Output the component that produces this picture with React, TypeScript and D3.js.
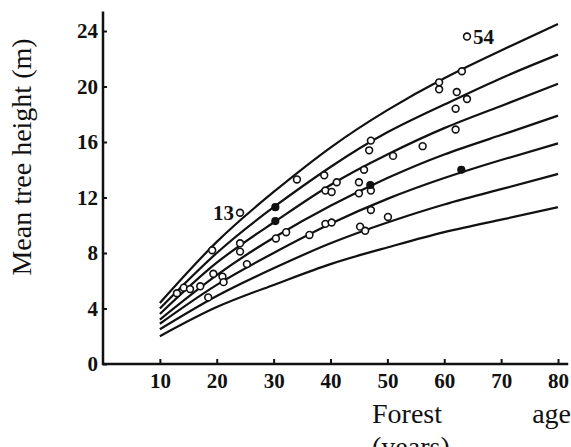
import React, { useEffect, useRef } from 'react';
import * as d3 from 'd3';

// Ages at which the fitted curves are read
const ages = [10, 20, 30, 40, 50, 60, 70, 80];

// Seven fitted height curves (m), top to bottom
const curve1 = [4.4, 8.8, 12.4, 15.6, 18.3, 20.6, 22.6, 24.5];
const curve2 = [4.0, 8.0, 11.3, 14.2, 16.7, 18.7, 20.6, 22.3];
const curve3 = [3.6, 7.3, 10.2, 12.9, 15.1, 17.0, 18.6, 20.2];
const curve4 = [3.2, 6.4, 9.1, 11.4, 13.4, 15.1, 16.5, 17.9];
const curve5 = [2.9, 5.7, 8.0, 10.1, 11.9, 13.4, 14.7, 15.9];
const curve6 = [2.5, 4.9, 6.9, 8.7, 10.2, 11.5, 12.6, 13.7];
const curve7 = [2.0, 4.1, 5.7, 7.2, 8.4, 9.5, 10.4, 11.3];
const curves = [curve1, curve2, curve3, curve4, curve5, curve6, curve7];

// Observed stands (open circles)
const openAge = [
  13.0, 14.2, 15.3, 17.1, 18.5, 19.2, 19.4, 21.0, 21.2, 24.1, 24.1, 25.3, 24.1,
  30.4, 32.2, 34.1, 36.3, 38.9, 39.1, 40.2, 41.1, 39.1, 40.2,
  45.0, 45.0, 45.9, 45.2, 46.1, 46.8, 47.1, 47.1, 47.1, 50.1, 51.0, 56.2,
  59.1, 59.1, 62.2, 63.1, 64.0, 62.0, 62.0, 64.0,
];
const openHeight = [
  5.1, 5.5, 5.4, 5.6, 4.8, 8.2, 6.5, 6.3, 5.9, 8.7, 8.1, 7.2, 10.9,
  9.05, 9.5, 13.3, 9.3, 13.6, 12.5, 12.4, 13.1, 10.1, 10.2,
  13.1, 12.3, 14.0, 9.9, 9.6, 15.4, 16.1, 12.5, 11.1, 10.6, 15.0, 15.7,
  20.3, 19.8, 19.6, 21.1, 19.1, 18.4, 16.9, 23.6,
];

// Observed stands (solid dots)
const filledAge = [30.3, 30.3, 47.0, 63.0];
const filledHeight = [11.3, 10.3, 12.9, 14.0];

// Numbered stands
const noteText = ['13', '54'];
const noteAge = [24.1, 64.0];
const noteHeight = [10.9, 23.6];
const noteSide = ['left', 'right'];

const xTicks = [10, 20, 30, 40, 50, 60, 70, 80];
const yTicks = [0, 4, 8, 12, 16, 20, 24];

export default function App() {
  const svgRef = useRef<SVGSVGElement>(null);

  useEffect(() => {
    if (!svgRef.current) return;
    const width = 571;
    const height = 447;

    d3.select(svgRef.current).selectAll('*').remove();
    const svg = d3.select(svgRef.current)
      .attr('width', width)
      .attr('height', height);

    const x = d3.scaleLinear().domain([0, 80]).range([103, 558]);
    const y = d3.scaleLinear().domain([0, 24]).range([364, 31]);

    const tickFont = '"Liberation Serif", "DejaVu Serif", serif';

    // axes
    const yAxis = svg.append('g')
      .attr('transform', `translate(${x(0)},0)`)
      .call(d3.axisLeft(y).tickValues(yTicks).tickSize(-4).tickPadding(5));
    const xAxis = svg.append('g')
      .attr('transform', `translate(0,${y(0)})`)
      .call(d3.axisBottom(x).tickValues(xTicks).tickSize(-5).tickPadding(9));

    [yAxis, xAxis].forEach(ax => {
      ax.select('.domain').remove();
      ax.selectAll('line').attr('stroke', '#111').attr('stroke-width', 2);
      ax.selectAll('text')
        .attr('fill', '#111')
        .style('font-family', tickFont)
        .style('font-weight', 'bold')
        .style('font-size', '21px');
    });

    svg.append('line')
      .attr('x1', x(0)).attr('x2', x(0))
      .attr('y1', y(0) + 1).attr('y2', y(25.4))
      .attr('stroke', '#111').attr('stroke-width', 2.5);
    svg.append('line')
      .attr('x1', x(0) - 1).attr('x2', x(81.8))
      .attr('y1', y(0)).attr('y2', y(0))
      .attr('stroke', '#111').attr('stroke-width', 2.5);

    // fitted curves
    const line = d3.line<number>()
      .x((d, i) => x(ages[i]))
      .y(d => y(d))
      .curve(d3.curveNatural);

    svg.append('g')
      .selectAll('path')
      .data(curves)
      .join('path')
      .attr('d', d => line(d))
      .attr('fill', 'none')
      .attr('stroke', '#111')
      .attr('stroke-width', 2.2);

    // points
    svg.append('g')
      .selectAll('circle')
      .data(openAge)
      .join('circle')
      .attr('cx', d => x(d))
      .attr('cy', (d, i) => y(openHeight[i]))
      .attr('r', 3.4)
      .attr('fill', '#fff')
      .attr('stroke', '#111')
      .attr('stroke-width', 1.6);

    svg.append('g')
      .selectAll('circle')
      .data(filledAge)
      .join('circle')
      .attr('cx', d => x(d))
      .attr('cy', (d, i) => y(filledHeight[i]))
      .attr('r', 3.4)
      .attr('fill', '#111')
      .attr('stroke', '#111')
      .attr('stroke-width', 1.4);

    // stand numbers
    svg.append('g')
      .selectAll('text')
      .data(noteText)
      .join('text')
      .attr('x', (d, i) => x(noteAge[i]) + (noteSide[i] === 'left' ? -6 : 6))
      .attr('y', (d, i) => y(noteHeight[i]) + 7)
      .attr('text-anchor', (d, i) => (noteSide[i] === 'left' ? 'end' : 'start'))
      .style('font-family', tickFont)
      .style('font-weight', 'bold')
      .style('font-size', '21px')
      .attr('fill', '#111')
      .text(d => d);

    // axis titles
    const titleFont = '"Liberation Serif", "Times New Roman", serif';
    svg.append('text')
      .attr('transform', `translate(31,157) rotate(-90)`)
      .attr('text-anchor', 'middle')
      .style('font-family', titleFont)
      .style('font-size', '28px')
      .attr('fill', '#111')
      .text('Mean tree height (m)');

    const xt = svg.append('g')
      .style('font-family', titleFont)
      .style('font-size', '28px')
      .attr('fill', '#111');
    xt.append('text').attr('x', 372).attr('y', 423).text('Forest');
    xt.append('text').attr('x', 571).attr('y', 423).attr('text-anchor', 'end').text('age');
    xt.append('text').attr('x', 372).attr('y', 456).text('(years)');
  }, []);

  return (
    <div style={{ position: 'absolute', left: 0, top: 0, width: 571, height: 447, background: '#fff' }}>
      <svg ref={svgRef} style={{ display: 'block' }} />
    </div>
  );
}
